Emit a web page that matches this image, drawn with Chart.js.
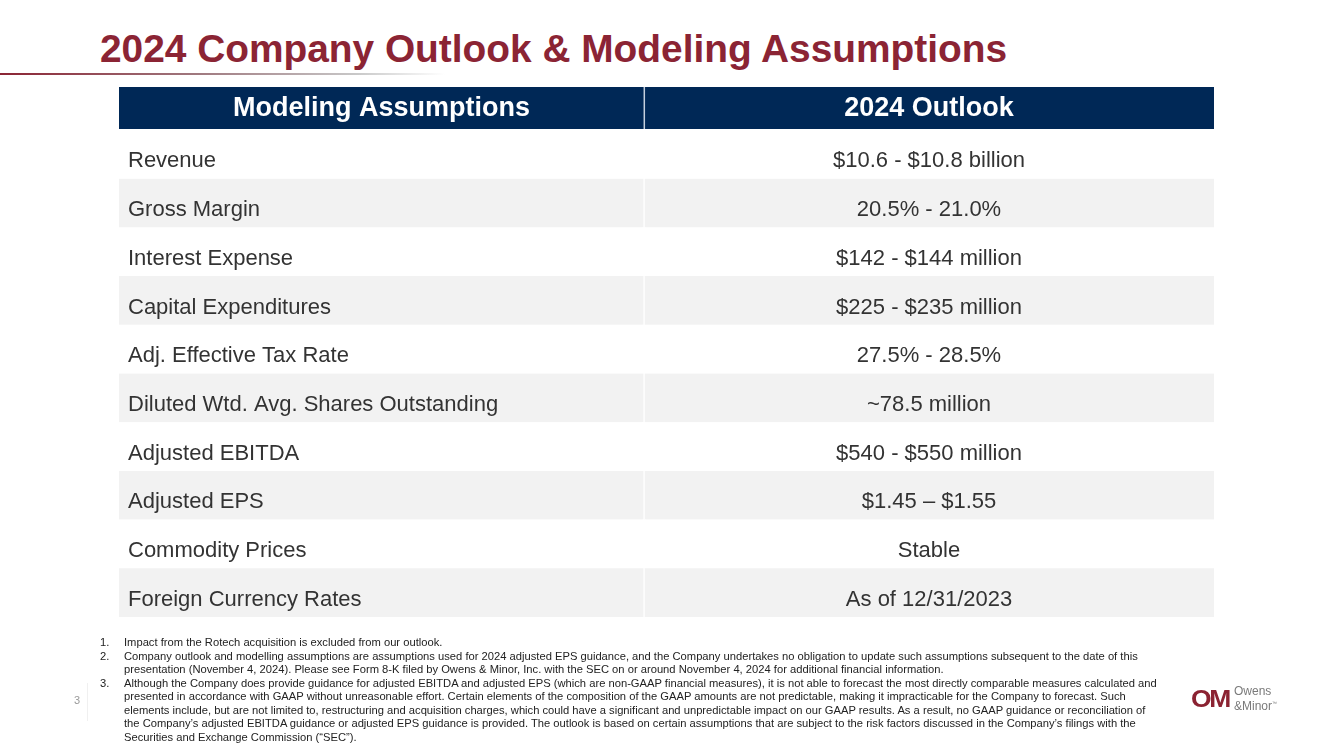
<!DOCTYPE html>
<html>
<head>
<meta charset="utf-8">
<script src="https://cdn.jsdelivr.net/npm/chart.js@4.4.1/dist/chart.umd.min.js"></script>
<style>
  html, body { margin: 0; padding: 0; background: #fff; }
  body { width: 1333px; height: 749px; position: relative; overflow: hidden; font-family: Arial, "Liberation Sans", Arimo, Helvetica, sans-serif; }
  #title { position: absolute; left: 100px; top: 30px; margin: 0; font-size: 38px; line-height: 38px; font-weight: bold; color: #8b2434; white-space: nowrap; transform-origin: left top; }
  #rule { position: absolute; left: 0; top: 73px; width: 445px; height: 2px; background: linear-gradient(to right, #8b2434 0%, #a07a80 45%, #c8c8c8 80%, rgba(255,255,255,0) 100%); }
  #table { position: absolute; left: 0; top: 0; }
  #notes { position: absolute; left: 100px; top: 636px; font-size: 11.2px; line-height: 13.57px; color: #222; }
  #notes div { position: relative; padding-left: 24px; white-space: nowrap; }
  #notes span.n { position: absolute; left: 0; }
  #page { position: absolute; left: 74px; top: 694px; font-size: 11px; color: #9a9a9a; }
  #sep { position: absolute; left: 87px; top: 683px; width: 1px; height: 38px; background: #f0f0f0; }
  #logo { position: absolute; left: 1191px; top: 686px; display: flex; align-items: center; }
  #logo .om { display: inline-block; font-weight: 900; font-size: 23px; color: #8b2332; letter-spacing: -2px; line-height: 24px; transform: scaleX(1.15); transform-origin: left center; width: 42px; }
  #logo .name { margin-left: 1px; font-size: 12px; line-height: 11.5px; color: #7a7a7a; }
</style>
</head>
<body>
<h1 id="title">2024 Company Outlook &amp; Modeling Assumptions</h1>
<div id="rule"></div>
<canvas id="table" width="1333" height="749"></canvas>
<div id="sep"></div>
<div id="page">3</div>
<div id="notes">
  <div><span class="n">1.</span>Impact from the Rotech acquisition is excluded from our outlook.</div>
  <div><span class="n">2.</span>Company outlook and modelling assumptions are assumptions used for 2024 adjusted EPS guidance, and the Company undertakes no obligation to update such assumptions subsequent to the date of this<br>presentation (November 4, 2024). Please see Form 8-K filed by Owens &amp; Minor, Inc. with the SEC on or around November 4, 2024 for additional financial information.</div>
  <div><span class="n">3.</span>Although the Company does provide guidance for adjusted EBITDA and adjusted EPS (which are non-GAAP financial measures), it is not able to forecast the most directly comparable measures calculated and<br>presented in accordance with GAAP without unreasonable effort. Certain elements of the composition of the GAAP amounts are not predictable, making it impracticable for the Company to forecast. Such<br>elements include, but are not limited to, restructuring and acquisition charges, which could have a significant and unpredictable impact on our GAAP results. As a result, no GAAP guidance or reconciliation of<br>the Company’s adjusted EBITDA guidance or adjusted EPS guidance is provided. The outlook is based on certain assumptions that are subject to the risk factors discussed in the Company’s filings with the<br>Securities and Exchange Commission (“SEC”).</div>
</div>
<div id="logo"><span class="om">OM</span><span class="name">Owens<br>&amp;Minor<sup style="font-size:5px">™</sup></span></div>

<script>
'use strict';

// table content
const headers = ["Modeling Assumptions", "2024 Outlook"];
const assumptions = [
    "Revenue",
    "Gross Margin",
    "Interest Expense",
    "Capital Expenditures",
    "Adj. Effective Tax Rate",
    "Diluted Wtd. Avg. Shares Outstanding",
    "Adjusted EBITDA",
    "Adjusted EPS",
    "Commodity Prices",
    "Foreign Currency Rates",
];
const outlook = [
    "$10.6 - $10.8 billion",
    "20.5% - 21.0%",
    "$142 - $144 million",
    "$225 - $235 million",
    "27.5% - 28.5%",
    "~78.5 million",
    "$540 - $550 million",
    "$1.45 – $1.55",
    "Stable",
    "As of 12/31/2023",
];

const FONT = "Arial, 'Liberation Sans', Arimo, Helvetica, sans-serif";

// squeeze the title to the slide's width
const title = document.getElementById("title");
title.style.transform = "scaleX(" + (907 / title.getBoundingClientRect().width) + ")";

const split = 0.4795; // share of the table width taken by the first column
const navy = "#002856";
const rowFill = assumptions.map((_, i) => (i % 2 ? "#f2f2f2" : "#ffffff"));

const tableText = {
    id: "tableText",
    afterDatasetsDraw(chart) {
        const { ctx, chartArea, scales } = chart;
        const x0 = scales.x.getPixelForValue(0);
        const xs = scales.x.getPixelForValue(split);
        const x1 = scales.x.getPixelForValue(1);

        // header band
        const hTop = chartArea.top - 43;
        ctx.save();
        ctx.fillStyle = navy;
        ctx.fillRect(x0, hTop, x1 - x0, 42);
        ctx.fillStyle = "#c5d0de";
        ctx.fillRect(xs - 0.5, hTop, 1.5, 42);
        ctx.fillStyle = "#ffffff";
        ctx.font = "bold 27px " + FONT;
        ctx.textAlign = "center";
        ctx.textBaseline = "middle";
        ctx.fillText(headers[0], (x0 + xs) / 2, hTop + 22);
        ctx.fillText(headers[1], (xs + x1) / 2, hTop + 22);

        // body cells
        ctx.fillStyle = "#333333";
        ctx.font = "22px " + FONT;
        assumptions.forEach((label, i) => {
            const y = scales.y.getPixelForValue(i) + 7;
            ctx.textAlign = "left";
            ctx.fillText(label, x0 + 9, y);
            ctx.textAlign = "center";
            ctx.fillText(outlook[i], (xs + x1) / 2, y);
        });
        ctx.restore();
    },
};

new Chart(document.getElementById("table"), {
    type: "bar",
    data: {
        labels: assumptions,
        datasets: [
            {
                label: headers[0],
                data: assumptions.map(() => [0, split]),
                backgroundColor: rowFill,
                borderColor: "#ffffff",
                borderWidth: { right: 1 },
                borderSkipped: false,
            },
            {
                label: headers[1],
                data: outlook.map(() => [split, 1]),
                backgroundColor: rowFill,
                borderColor: "#ffffff",
                borderWidth: { left: 1 },
                borderSkipped: false,
            },
        ],
    },
    options: {
        indexAxis: "y",
        responsive: false,
        animation: false,
        layout: { padding: { left: 119, right: 119, top: 130, bottom: 132 } },
        datasets: { bar: { grouped: false, barPercentage: 1, categoryPercentage: 1 } },
        scales: {
            x: { display: false, min: 0, max: 1 },
            y: { display: false },
        },
        plugins: {
            legend: { display: false },
            tooltip: { enabled: false },
        },
    },
    plugins: [tableText],
});
</script>
</body>
</html>
